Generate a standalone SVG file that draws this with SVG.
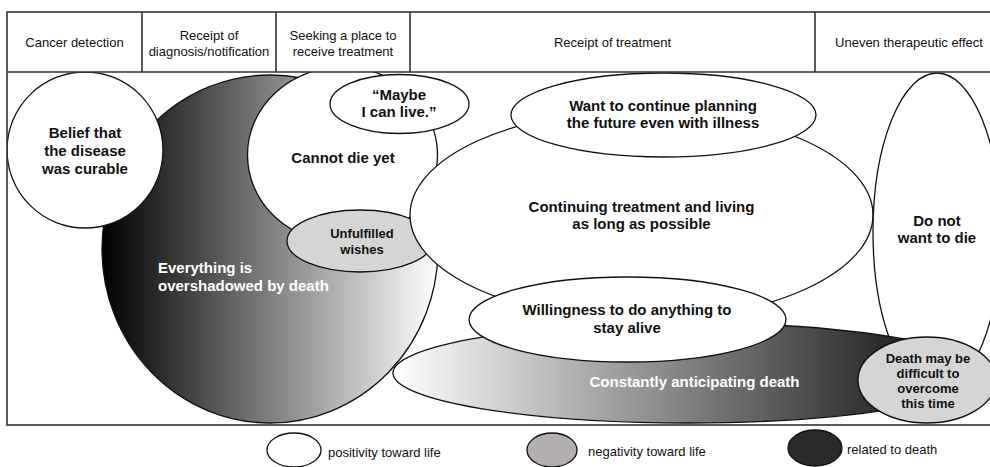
<svg xmlns="http://www.w3.org/2000/svg" width="990" height="467" viewBox="0 0 990 467">
<style>
  .hdr{font-family:"Liberation Sans",Arial,sans-serif;font-size:13px;fill:#111;text-anchor:middle}
  .lbl{font-family:"Liberation Sans",Arial,sans-serif;font-size:15px;font-weight:bold;fill:#111;text-anchor:middle}
  .sm{font-size:13px}
  .wt{fill:#fff}
  .node{stroke:#111;stroke-width:1.3}
  .pos{fill:#fff}
  .neg{fill:#d5d5d5}
  .leg{font-family:"Liberation Sans",Arial,sans-serif;font-size:13px;fill:#111}
  .frame{stroke:#333;stroke-width:1.6;fill:none}
</style>
<defs>
  <linearGradient id="gEverything" x1="0" y1="0" x2="1" y2="0">
    <stop offset="0" stop-color="#000"/>
    <stop offset="1" stop-color="#fff"/>
  </linearGradient>
  <linearGradient id="gConstantly" x1="0" y1="0" x2="1" y2="0">
    <stop offset="0" stop-color="#fff"/>
    <stop offset="0.92" stop-color="#151515"/>
  </linearGradient>
  <clipPath id="body"><rect x="7" y="72" width="1000" height="353"/></clipPath>
</defs>
<rect width="990" height="467" fill="#fff"/>

<g id="nodes" clip-path="url(#body)">
  <g id="everything">
    <ellipse class="node" cx="270" cy="249" rx="168" ry="174" fill="url(#gEverything)"/>
    <text class="lbl wt" style="text-anchor:start" x="158" y="273">Everything is</text>
    <text class="lbl wt" style="text-anchor:start" x="158" y="291">overshadowed by death</text>
  </g>
  <g id="belief">
    <circle class="node pos" cx="85" cy="150" r="78"/>
    <text class="lbl" x="85" y="138">Belief that</text>
    <text class="lbl" x="85" y="156">the disease</text>
    <text class="lbl" x="85" y="174">was curable</text>
  </g>
  <g id="cannot-die">
    <ellipse class="node pos" cx="342.5" cy="155" rx="95" ry="88"/>
    <text class="lbl" x="343" y="163">Cannot die yet</text>
  </g>
  <g id="maybe">
    <ellipse class="node pos" cx="399.5" cy="104" rx="69.5" ry="29.5"/>
    <text class="lbl" x="399" y="100">“Maybe</text>
    <text class="lbl" x="399" y="117">I can live.”</text>
  </g>
  <g id="unfulfilled">
    <ellipse class="node neg" cx="360" cy="241" rx="73" ry="31"/>
    <text class="lbl sm" x="362" y="238">Unfulfilled</text>
    <text class="lbl sm" x="362" y="254">wishes</text>
  </g>
  <g id="continuing">
    <ellipse class="node pos" cx="641.5" cy="215" rx="231.5" ry="105"/>
    <text class="lbl" x="641.5" y="212">Continuing treatment and living</text>
    <text class="lbl" x="641.5" y="229">as long as possible</text>
  </g>
  <g id="want-plan">
    <ellipse class="node pos" cx="663.5" cy="115" rx="152.5" ry="42"/>
    <text class="lbl" x="663" y="111">Want to continue planning</text>
    <text class="lbl" x="663" y="128">the future even with illness</text>
  </g>
  <g id="do-not-die">
    <ellipse class="node pos" cx="937" cy="232" rx="64" ry="159"/>
    <text class="lbl" x="937" y="226">Do not</text>
    <text class="lbl" x="937" y="243">want to die</text>
  </g>
  <g id="constantly">
    <ellipse class="node" cx="688" cy="373" rx="295" ry="50" fill="url(#gConstantly)"/>
    <text class="lbl wt" x="694.5" y="387">Constantly anticipating death</text>
  </g>
  <g id="willingness">
    <ellipse class="node pos" cx="627.5" cy="319.5" rx="158.5" ry="42.5"/>
    <text class="lbl" x="627" y="315">Willingness to do anything to</text>
    <text class="lbl" x="627" y="333">stay alive</text>
  </g>
  <g id="death-difficult">
    <ellipse class="node neg" cx="927" cy="380" rx="69" ry="43"/>
    <text class="lbl sm" x="928" y="363">Death may be</text>
    <text class="lbl sm" x="928" y="378">difficult to</text>
    <text class="lbl sm" x="928" y="393">overcome</text>
    <text class="lbl sm" x="928" y="408">this time</text>
  </g>
</g>

<g id="connectors"></g>

<g id="frame">
  <rect class="frame" x="7" y="12" width="996" height="413"/>
  <line class="frame" x1="7" y1="72" x2="1003" y2="72"/>
  <line class="frame" x1="142" y1="12" x2="142" y2="72"/>
  <line class="frame" x1="276" y1="12" x2="276" y2="72"/>
  <line class="frame" x1="410" y1="12" x2="410" y2="72"/>
  <line class="frame" x1="815" y1="12" x2="815" y2="72"/>
</g>

<g id="header">
  <text class="hdr" x="74.5" y="47">Cancer detection</text>
  <text class="hdr" x="209" y="39.5">Receipt of</text>
  <text class="hdr" x="209" y="55.5">diagnosis/notification</text>
  <text class="hdr" x="343" y="39.5">Seeking a place to</text>
  <text class="hdr" x="343" y="55.5">receive treatment</text>
  <text class="hdr" x="612.5" y="47">Receipt of treatment</text>
  <text class="hdr" x="909" y="47">Uneven therapeutic effect</text>
</g>

<g id="legend">
  <g id="legend-positive">
    <ellipse cx="294" cy="450" rx="27" ry="17" fill="#fff" stroke="#111" stroke-width="1.3"/>
    <text class="leg" x="328" y="457">positivity toward life</text>
  </g>
  <g id="legend-negative">
    <ellipse cx="552" cy="450" rx="25" ry="17" fill="#b2afae" stroke="#111" stroke-width="1.3"/>
    <text class="leg" x="588" y="456">negativity toward life</text>
  </g>
  <g id="legend-death">
    <ellipse cx="815" cy="448" rx="27" ry="18" fill="#2a2a2a" stroke="#111" stroke-width="1.3"/>
    <text class="leg" x="847" y="454">related to death</text>
  </g>
</g>
</svg>
